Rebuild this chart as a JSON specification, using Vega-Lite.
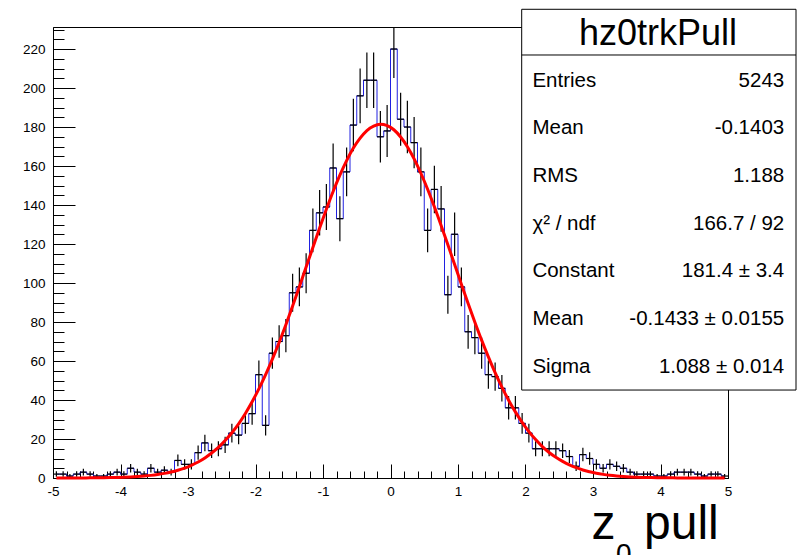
{
  "$schema": "https://vega.github.io/schema/vega-lite/v6.json",
  "width": 675,
  "height": 451,
  "autosize": {"type": "none"},
  "padding": {"left": 53, "top": 27, "right": 69, "bottom": 77},
  "background": "white",
  "config": {
    "font": "Liberation Sans",
    "view": {"stroke": "black", "strokeWidth": 1},
    "axis": {
      "grid": false,
      "labelFont": "Liberation Sans",
      "labelColor": "black",
      "tickColor": "black",
      "domainColor": "black",
      "titleColor": "black",
      "titleFont": "Liberation Sans",
      "titleFontWeight": "normal"
    }
  },
  "datasets": {
    "hist": [
      {"lo": -5.0, "hi": -4.9, "mid": -4.95, "n": 2, "e": 1.41, "fit": 0.01},
      {"lo": -4.9, "hi": -4.8, "mid": -4.85, "n": 2, "e": 1.41, "fit": 0.02},
      {"lo": -4.8, "hi": -4.7, "mid": -4.75, "n": 1, "e": 1, "fit": 0.02},
      {"lo": -4.7, "hi": -4.6, "mid": -4.65, "n": 2, "e": 1.41, "fit": 0.03},
      {"lo": -4.6, "hi": -4.5, "mid": -4.55, "n": 3, "e": 1.73, "fit": 0.05},
      {"lo": -4.5, "hi": -4.4, "mid": -4.45, "n": 2, "e": 1.41, "fit": 0.07},
      {"lo": -4.4, "hi": -4.3, "mid": -4.35, "n": 1, "e": 1, "fit": 0.1},
      {"lo": -4.3, "hi": -4.2, "mid": -4.25, "n": 1, "e": 1, "fit": 0.15},
      {"lo": -4.2, "hi": -4.1, "mid": -4.15, "n": 2, "e": 1.41, "fit": 0.21},
      {"lo": -4.1, "hi": -4.0, "mid": -4.05, "n": 3, "e": 1.73, "fit": 0.29},
      {"lo": -4.0, "hi": -3.9, "mid": -3.95, "n": 2, "e": 1.41, "fit": 0.4},
      {"lo": -3.9, "hi": -3.8, "mid": -3.85, "n": 5, "e": 2.24, "fit": 0.55},
      {"lo": -3.8, "hi": -3.7, "mid": -3.75, "n": 3, "e": 1.73, "fit": 0.75},
      {"lo": -3.7, "hi": -3.6, "mid": -3.65, "n": 2, "e": 1.41, "fit": 1.01},
      {"lo": -3.6, "hi": -3.5, "mid": -3.55, "n": 5, "e": 2.24, "fit": 1.35},
      {"lo": -3.5, "hi": -3.4, "mid": -3.45, "n": 3, "e": 1.73, "fit": 1.79},
      {"lo": -3.4, "hi": -3.3, "mid": -3.35, "n": 4, "e": 2, "fit": 2.36},
      {"lo": -3.3, "hi": -3.2, "mid": -3.25, "n": 3, "e": 1.73, "fit": 3.08},
      {"lo": -3.2, "hi": -3.1, "mid": -3.15, "n": 9, "e": 3, "fit": 3.99},
      {"lo": -3.1, "hi": -3.0, "mid": -3.05, "n": 7, "e": 2.65, "fit": 5.11},
      {"lo": -3.0, "hi": -2.9, "mid": -2.95, "n": 7, "e": 2.65, "fit": 6.51},
      {"lo": -2.9, "hi": -2.8, "mid": -2.85, "n": 13, "e": 3.61, "fit": 8.2},
      {"lo": -2.8, "hi": -2.7, "mid": -2.75, "n": 18, "e": 4.24, "fit": 10.3},
      {"lo": -2.7, "hi": -2.6, "mid": -2.65, "n": 14, "e": 3.74, "fit": 12.8},
      {"lo": -2.6, "hi": -2.5, "mid": -2.55, "n": 15, "e": 3.87, "fit": 15.7},
      {"lo": -2.5, "hi": -2.4, "mid": -2.45, "n": 17, "e": 4.12, "fit": 19.2},
      {"lo": -2.4, "hi": -2.3, "mid": -2.35, "n": 23, "e": 4.8, "fit": 23.2},
      {"lo": -2.3, "hi": -2.2, "mid": -2.25, "n": 22, "e": 4.69, "fit": 27.8},
      {"lo": -2.2, "hi": -2.1, "mid": -2.15, "n": 28, "e": 5.29, "fit": 33.1},
      {"lo": -2.1, "hi": -2.0, "mid": -2.05, "n": 33, "e": 5.74, "fit": 39.1},
      {"lo": -2.0, "hi": -1.9, "mid": -1.95, "n": 53, "e": 7.28, "fit": 45.7},
      {"lo": -1.9, "hi": -1.8, "mid": -1.85, "n": 27, "e": 5.2, "fit": 53.0},
      {"lo": -1.8, "hi": -1.7, "mid": -1.75, "n": 64, "e": 8, "fit": 61.0},
      {"lo": -1.7, "hi": -1.6, "mid": -1.65, "n": 70, "e": 8.37, "fit": 69.5},
      {"lo": -1.6, "hi": -1.5, "mid": -1.55, "n": 73, "e": 8.54, "fit": 78.6},
      {"lo": -1.5, "hi": -1.4, "mid": -1.45, "n": 95, "e": 9.75, "fit": 88.2},
      {"lo": -1.4, "hi": -1.3, "mid": -1.35, "n": 98, "e": 9.9, "fit": 98.1},
      {"lo": -1.3, "hi": -1.2, "mid": -1.25, "n": 105, "e": 10.25, "fit": 108.2},
      {"lo": -1.2, "hi": -1.1, "mid": -1.15, "n": 127, "e": 11.27, "fit": 118.2},
      {"lo": -1.1, "hi": -1.0, "mid": -1.05, "n": 136, "e": 11.66, "fit": 128.2},
      {"lo": -1.0, "hi": -0.9, "mid": -0.95, "n": 139, "e": 11.79, "fit": 137.8},
      {"lo": -0.9, "hi": -0.8, "mid": -0.85, "n": 159, "e": 12.61, "fit": 146.9},
      {"lo": -0.8, "hi": -0.7, "mid": -0.75, "n": 133, "e": 11.53, "fit": 155.3},
      {"lo": -0.7, "hi": -0.6, "mid": -0.65, "n": 157, "e": 12.53, "fit": 162.8},
      {"lo": -0.6, "hi": -0.5, "mid": -0.55, "n": 181, "e": 13.45, "fit": 169.2},
      {"lo": -0.5, "hi": -0.4, "mid": -0.45, "n": 196, "e": 14, "fit": 174.3},
      {"lo": -0.4, "hi": -0.3, "mid": -0.35, "n": 204, "e": 14.28, "fit": 178.2},
      {"lo": -0.3, "hi": -0.2, "mid": -0.25, "n": 204, "e": 14.28, "fit": 180.5},
      {"lo": -0.2, "hi": -0.1, "mid": -0.15, "n": 175, "e": 13.23, "fit": 181.4},
      {"lo": -0.1, "hi": 0.0, "mid": -0.05, "n": 178, "e": 13.34, "fit": 180.7},
      {"lo": 0.0, "hi": 0.1, "mid": 0.05, "n": 220, "e": 14.83, "fit": 178.6},
      {"lo": 0.1, "hi": 0.2, "mid": 0.15, "n": 184, "e": 13.56, "fit": 174.9},
      {"lo": 0.2, "hi": 0.3, "mid": 0.25, "n": 180, "e": 13.42, "fit": 169.9},
      {"lo": 0.3, "hi": 0.4, "mid": 0.35, "n": 172, "e": 13.11, "fit": 163.7},
      {"lo": 0.4, "hi": 0.5, "mid": 0.45, "n": 157, "e": 12.53, "fit": 156.3},
      {"lo": 0.5, "hi": 0.6, "mid": 0.55, "n": 127, "e": 11.27, "fit": 148.1},
      {"lo": 0.6, "hi": 0.7, "mid": 0.65, "n": 148, "e": 12.17, "fit": 139.1},
      {"lo": 0.7, "hi": 0.8, "mid": 0.75, "n": 138, "e": 11.75, "fit": 129.5},
      {"lo": 0.8, "hi": 0.9, "mid": 0.85, "n": 94, "e": 9.7, "fit": 119.6},
      {"lo": 0.9, "hi": 1.0, "mid": 0.95, "n": 125, "e": 11.18, "fit": 109.5},
      {"lo": 1.0, "hi": 1.1, "mid": 1.05, "n": 98, "e": 9.9, "fit": 99.4},
      {"lo": 1.1, "hi": 1.2, "mid": 1.15, "n": 75, "e": 8.66, "fit": 89.5},
      {"lo": 1.2, "hi": 1.3, "mid": 1.25, "n": 72, "e": 8.49, "fit": 79.9},
      {"lo": 1.3, "hi": 1.4, "mid": 1.35, "n": 64, "e": 8, "fit": 70.7},
      {"lo": 1.4, "hi": 1.5, "mid": 1.45, "n": 53, "e": 7.28, "fit": 62.1},
      {"lo": 1.5, "hi": 1.6, "mid": 1.55, "n": 52, "e": 7.21, "fit": 54.0},
      {"lo": 1.6, "hi": 1.7, "mid": 1.65, "n": 46, "e": 6.78, "fit": 46.6},
      {"lo": 1.7, "hi": 1.8, "mid": 1.75, "n": 36, "e": 6, "fit": 39.9},
      {"lo": 1.8, "hi": 1.9, "mid": 1.85, "n": 36, "e": 6, "fit": 33.9},
      {"lo": 1.9, "hi": 2.0, "mid": 1.95, "n": 28, "e": 5.29, "fit": 28.5},
      {"lo": 2.0, "hi": 2.1, "mid": 2.05, "n": 23, "e": 4.8, "fit": 23.8},
      {"lo": 2.1, "hi": 2.2, "mid": 2.15, "n": 15, "e": 3.87, "fit": 19.7},
      {"lo": 2.2, "hi": 2.3, "mid": 2.25, "n": 15, "e": 3.87, "fit": 16.1},
      {"lo": 2.3, "hi": 2.4, "mid": 2.35, "n": 15, "e": 3.87, "fit": 13.1},
      {"lo": 2.4, "hi": 2.5, "mid": 2.45, "n": 15, "e": 3.87, "fit": 10.6},
      {"lo": 2.5, "hi": 2.6, "mid": 2.55, "n": 14, "e": 3.74, "fit": 8.5},
      {"lo": 2.6, "hi": 2.7, "mid": 2.65, "n": 11, "e": 3.32, "fit": 6.7},
      {"lo": 2.7, "hi": 2.8, "mid": 2.75, "n": 6, "e": 2.45, "fit": 5.3},
      {"lo": 2.8, "hi": 2.9, "mid": 2.85, "n": 12, "e": 3.46, "fit": 4.1},
      {"lo": 2.9, "hi": 3.0, "mid": 2.95, "n": 10, "e": 3.16, "fit": 3.2},
      {"lo": 3.0, "hi": 3.1, "mid": 3.05, "n": 7, "e": 2.65, "fit": 2.44},
      {"lo": 3.1, "hi": 3.2, "mid": 3.15, "n": 5, "e": 2.24, "fit": 1.86},
      {"lo": 3.2, "hi": 3.3, "mid": 3.25, "n": 7, "e": 2.65, "fit": 1.4},
      {"lo": 3.3, "hi": 3.4, "mid": 3.35, "n": 6, "e": 2.45, "fit": 1.05},
      {"lo": 3.4, "hi": 3.5, "mid": 3.45, "n": 5, "e": 2.24, "fit": 0.78},
      {"lo": 3.5, "hi": 3.6, "mid": 3.55, "n": 3, "e": 1.73, "fit": 0.57},
      {"lo": 3.6, "hi": 3.7, "mid": 3.65, "n": 2, "e": 1.41, "fit": 0.42},
      {"lo": 3.7, "hi": 3.8, "mid": 3.75, "n": 2, "e": 1.41, "fit": 0.3},
      {"lo": 3.8, "hi": 3.9, "mid": 3.85, "n": 2, "e": 1.41, "fit": 0.22},
      {"lo": 3.9, "hi": 4.0, "mid": 3.95, "n": 1, "e": 1, "fit": 0.15},
      {"lo": 4.0, "hi": 4.1, "mid": 4.05, "n": 1, "e": 1, "fit": 0.11},
      {"lo": 4.1, "hi": 4.2, "mid": 4.15, "n": 2, "e": 1.41, "fit": 0.08},
      {"lo": 4.2, "hi": 4.3, "mid": 4.25, "n": 3, "e": 1.73, "fit": 0.05},
      {"lo": 4.3, "hi": 4.4, "mid": 4.35, "n": 3, "e": 1.73, "fit": 0.04},
      {"lo": 4.4, "hi": 4.5, "mid": 4.45, "n": 3, "e": 1.73, "fit": 0.02},
      {"lo": 4.5, "hi": 4.6, "mid": 4.55, "n": 2, "e": 1.41, "fit": 0.02},
      {"lo": 4.6, "hi": 4.7, "mid": 4.65, "n": 1, "e": 1, "fit": 0.01},
      {"lo": 4.7, "hi": 4.8, "mid": 4.75, "n": 2, "e": 1.41, "fit": 0.01},
      {"lo": 4.8, "hi": 4.9, "mid": 4.85, "n": 2, "e": 1.41, "fit": 0},
      {"lo": 4.9, "hi": 5.0, "mid": 4.95, "n": 1, "e": 1, "fit": 0}
    ],
    "stats": [
      {"k": 1, "label": "Entries", "value": "5243"},
      {"k": 2, "label": "Mean", "value": "-0.1403"},
      {"k": 3, "label": "RMS", "value": "1.188"},
      {"k": 4, "label": "χ² / ndf", "value": "166.7 / 92"},
      {"k": 5, "label": "Constant", "value": "181.4 ± 3.4"},
      {"k": 6, "label": "Mean", "value": "-0.1433 ± 0.0155"},
      {"k": 7, "label": "Sigma", "value": "1.088 ± 0.014"}
    ]
  },
  "resolve": {"scale": {"x": "independent", "y": "independent"}},
  "layer": [
    {
      "data": {"name": "hist"},
      "resolve": {"axis": {"x": "independent", "y": "independent"}},
      "layer": [
        {
          "mark": {"type": "line", "interpolate": "step", "color": "#2020e0", "strokeWidth": 1},
          "encoding": {
            "x": {
              "field": "mid", "type": "quantitative",
              "scale": {"domain": [-5, 5], "nice": false, "zero": false},
              "axis": {
                "orient": "bottom",
                "values": [-5, -4, -3, -2, -1, 0, 1, 2, 3, 4, 5],
                "tickSize": -14, "tickWidth": 1,
                "labelPadding": 20, "labelFontSize": 13.5,
                "labelExpr": "datum.value", "labelFlush": false, "labelOverlap": false,
                "domain": true,
                "title": "z", "titleFontSize": 48, "titleX": 538, "titleY": 60,
                "titleAlign": "left", "titleBaseline": "alphabetic"
              }
            },
            "y": {
              "field": "n", "type": "quantitative",
              "scale": {"domain": [0, 231.3], "nice": false, "zero": false, "clamp": true},
              "axis": {
                "orient": "left",
                "values": [0, 20, 40, 60, 80, 100, 120, 140, 160, 180, 200, 220],
                "tickSize": -22, "tickWidth": 1,
                "labelPadding": 30, "labelFontSize": 13.5,
                "labelExpr": "datum.value", "labelFlush": false, "labelOverlap": false,
                "domain": true, "title": null
              }
            }
          }
        },
        {
          "mark": {"type": "rule", "color": "black", "strokeWidth": 1.2},
          "encoding": {
            "x": {
              "field": "lo", "type": "quantitative",
              "scale": {"domain": [-5, 5], "nice": false, "zero": false},
              "axis": {
                "orient": "bottom",
                "values": [-5, -4.8, -4.6, -4.4, -4.2, -4, -3.8, -3.6, -3.4, -3.2, -3, -2.8, -2.6, -2.4, -2.2, -2, -1.8, -1.6, -1.4, -1.2, -1, -0.8, -0.6, -0.4, -0.2, 0, 0.2, 0.4, 0.6, 0.8, 1, 1.2, 1.4, 1.6, 1.8, 2, 2.2, 2.4, 2.6, 2.8, 3, 3.2, 3.4, 3.6, 3.8, 4, 4.2, 4.4, 4.6, 4.8, 5],
                "tickSize": -7, "tickWidth": 1,
                "labels": false, "domain": false,
                "title": "pull", "titleFontSize": 48, "titleX": 590.5, "titleY": 60,
                "titleAlign": "left", "titleBaseline": "alphabetic"
              }
            },
            "x2": {"field": "hi"},
            "y": {
              "field": "n", "type": "quantitative",
              "scale": {"domain": [0, 231.3], "nice": false, "zero": false, "clamp": true},
              "axis": {
                "orient": "left",
                "values": [0, 5, 10, 15, 20, 25, 30, 35, 40, 45, 50, 55, 60, 65, 70, 75, 80, 85, 90, 95, 100, 105, 110, 115, 120, 125, 130, 135, 140, 145, 150, 155, 160, 165, 170, 175, 180, 185, 190, 195, 200, 205, 210, 215, 220, 225, 230],
                "tickSize": -11, "tickWidth": 1,
                "labels": false, "domain": false,
                "title": "0", "titleFontSize": 28, "titleAngle": 0,
                "titleX": 562.5, "titleY": 535,
                "titleAlign": "left", "titleBaseline": "alphabetic"
              }
            }
          }
        },
        {
          "mark": {"type": "errorbar", "ticks": false, "color": "black", "thickness": 1.2},
          "encoding": {
            "x": {"field": "mid", "type": "quantitative", "scale": {"domain": [-5, 5], "nice": false, "zero": false}, "axis": null},
            "y": {"field": "n", "type": "quantitative", "scale": {"domain": [0, 231.3], "nice": false, "zero": false, "clamp": true}, "axis": null},
            "yError": {"field": "e"}
          }
        },
        {
          "mark": {"type": "line", "interpolate": "monotone", "color": "#ff0000", "strokeWidth": 3},
          "encoding": {
            "x": {"field": "mid", "type": "quantitative", "scale": {"domain": [-5, 5], "nice": false, "zero": false}, "axis": null},
            "y": {"field": "fit", "type": "quantitative", "scale": {"domain": [0, 231.3], "nice": false, "zero": false, "clamp": true}, "axis": null}
          }
        }
      ]
    },
    {
      "layer": [
        {
          "data": {"values": [{}]},
          "mark": {"type": "rect", "fill": "white", "stroke": "black", "strokeWidth": 1},
          "encoding": {
            "x": {
              "datum": 0, "type": "quantitative",
              "scale": {"domain": [0, 1], "range": [468.7, 743], "nice": false, "zero": false},
              "axis": null
            },
            "x2": {"datum": 1},
            "y": {
              "datum": -0.624, "type": "quantitative",
              "scale": {"domain": [0, 8], "range": [12.03, 393.4], "nice": false, "zero": false},
              "axis": null
            },
            "y2": {"datum": 7.363}
          }
        },
        {
          "data": {"values": [{}]},
          "mark": {"type": "rule", "color": "black", "strokeWidth": 1},
          "encoding": {
            "x": {"datum": 0, "type": "quantitative", "axis": null},
            "x2": {"datum": 1},
            "y": {"datum": 0.335, "type": "quantitative", "axis": null}
          }
        },
        {
          "data": {"values": [{}]},
          "mark": {"type": "text", "text": "hz0trkPull", "fontSize": 36, "align": "center", "baseline": "alphabetic", "color": "black"},
          "encoding": {
            "x": {"datum": 0.497, "type": "quantitative", "axis": null},
            "y": {"datum": 0.125, "type": "quantitative", "axis": null}
          }
        },
        {
          "data": {"name": "stats"},
          "mark": {"type": "text", "fontSize": 20.5, "align": "left", "baseline": "alphabetic", "color": "black"},
          "encoding": {
            "x": {"datum": 0.039, "type": "quantitative", "axis": null},
            "y": {"field": "k", "type": "quantitative", "axis": null},
            "text": {"field": "label"}
          }
        },
        {
          "data": {"name": "stats"},
          "mark": {"type": "text", "fontSize": 20.5, "align": "right", "baseline": "alphabetic", "color": "black"},
          "encoding": {
            "x": {"datum": 0.957, "type": "quantitative", "axis": null},
            "y": {"field": "k", "type": "quantitative", "axis": null},
            "text": {"field": "value"}
          }
        }
      ]
    }
  ]
}
